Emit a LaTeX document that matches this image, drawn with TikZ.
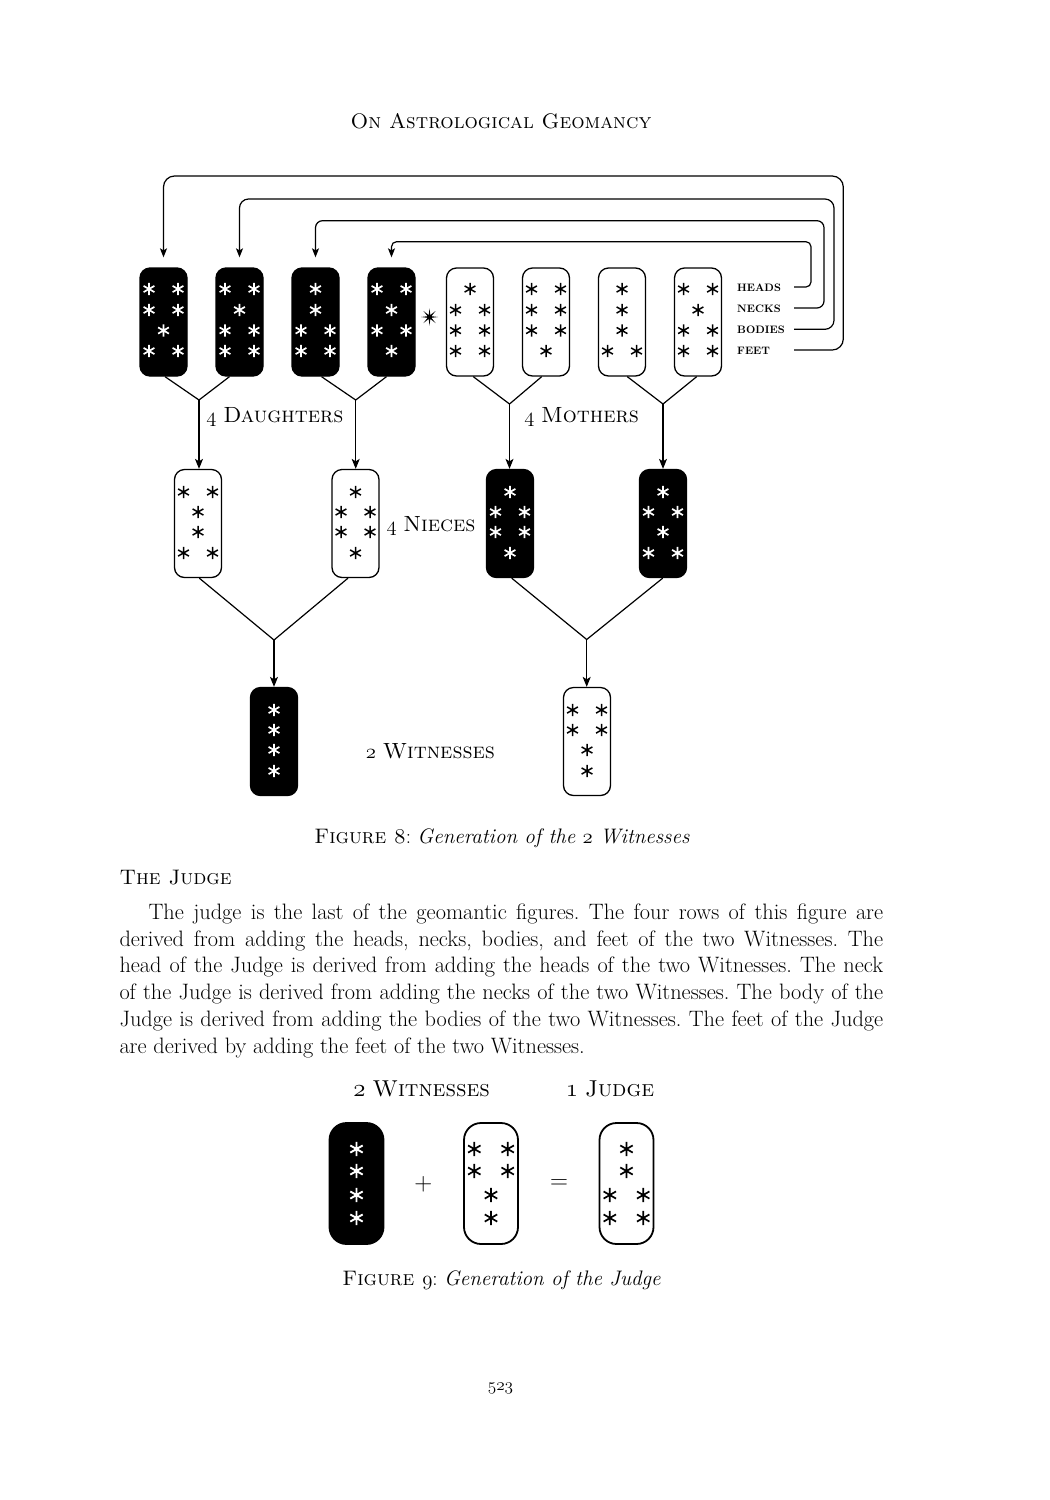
\documentclass[tikz,border=0pt]{standalone}
\usetikzlibrary{arrows.meta,calc,shapes.geometric}
\newcommand\osn[1]{{\usefont{OML}{cmm}{m}{it}#1}}
\def\rowoffs{{-33,-12,8.5,29}}
\def\dx{14.5}
\def\starlw{1.7pt}
\newcommand\geofig[5]{%
  \node[#3] (#1) at (#2) {};
  \foreach \r [count=\i] in {#5} {
    \pgfmathsetmacro\yy{\rowoffs[\i-1]}
    \ifnum\r=1\relax
      \pic[#4] at ($(#1.center)+(0,\yy)$) {gstar};
    \else
      \pic[#4] at ($(#1.center)+(-\dx,\yy)$) {gstar};
      \pic[#4] at ($(#1.center)+(\dx,\yy)$) {gstar};
    \fi
  }%
}
\begin{document}
\frenchspacing
\begin{tikzpicture}[x=1pt,y=-1pt,
  figbox/.style={rounded corners=10pt, minimum width=47pt, minimum height=108pt, inner sep=0pt, line width=1.3pt},
  blackfig/.style={figbox, draw=black, fill=black},
  whitefig/.style={figbox, draw=black, fill=white},
  bigbox/.style={rounded corners=17pt, minimum width=54pt, minimum height=121pt, inner sep=0pt, line width=1.8pt},
  bigblack/.style={bigbox, draw=black, fill=black},
  bigwhite/.style={bigbox, draw=black, fill=white},
  link/.style={line width=1.2pt},
  arr/.style={link, -{Stealth[length=10pt,width=8pt,inset=2.5pt]}},
  rowlbl/.style={font=\fontsize{10.8}{12}\selectfont\bfseries, anchor=base west, inner sep=0pt},
  txt/.style={inner sep=0pt, anchor=base},
  lbl/.style={txt, font=\fontsize{22}{26}\selectfont},
  body/.style={inner sep=0pt, anchor=base west, font=\fontsize{22.3}{27}\selectfont},
  capt/.style={txt, font=\fontsize{21}{25}\selectfont},
  gstar/.pic={\draw[line width=\starlw] (0,6.2)--(0,-6.2) (-5.4,3.1)--(5.4,-3.1) (-5.4,-3.1)--(5.4,3.1);}
]
\useasboundingbox (0,0) rectangle (1050,1500);
\fill[white] (0,0) rectangle (1050,1500);

% header
\node[capt] (hdr) at (501,128) {\textsc{On Astrological Geomancy}};

% top row
\geofig{d1}{163.5,322}{blackfig}{white}{2,2,1,2}
\geofig{d2}{239.5,322}{blackfig}{white}{2,1,2,2}
\geofig{d3}{315.5,322}{blackfig}{white}{1,1,2,2}
\geofig{d4}{391.5,322}{blackfig}{white}{2,1,2,1}
\def\starlw{1.5pt}
\geofig{m1}{470,322}{whitefig}{black}{1,2,2,2}
\geofig{m2}{546,322}{whitefig}{black}{2,2,2,1}
\geofig{m3}{622,322}{whitefig}{black}{1,1,1,2}
\geofig{m4}{698,322}{whitefig}{black}{2,1,2,2}
\node[star, star points=8, star point ratio=4, fill=black, minimum size=17pt, inner sep=0pt] (sep) at (429.5,317) {};

% nieces
\def\rowoffs{{-31.5,-11.5,8.5,29.5}}
\geofig{n1}{198,523.5}{whitefig}{black}{2,1,1,2}
\geofig{n2}{355.5,523.5}{whitefig}{black}{1,2,2,1}
\def\starlw{1.7pt}
\geofig{n3}{510,523.5}{blackfig}{white}{1,2,2,1}
\geofig{n4}{663,523.5}{blackfig}{white}{1,2,1,2}

% witnesses
\geofig{w1}{274,741.5}{blackfig}{white}{1,1,1,1}
\def\starlw{1.5pt}
\geofig{w2}{587,741.5}{whitefig}{black}{2,2,1,1}

% junctions
\coordinate (j1) at (199,400);
\coordinate (j2) at (355.7,400);
\coordinate (j3) at (509.5,404);
\coordinate (j4) at (663,404);
\coordinate (j5) at (274,640);
\coordinate (j6) at (586.7,639.5);

\draw[link] ($(d1.south)+(1.5,0)$) -- (j1) -- ($(d2.south)+(-10,0)$);
\draw[link] ($(d3.south)+(6,0)$) -- (j2) -- ($(d4.south)+(-5,0)$);
\draw[link] ($(m1.south)+(3.3,0)$) -- (j3) -- ($(m2.south)+(-4.3,0)$);
\draw[link] ($(m3.south)+(5.3,0)$) -- (j4) -- ($(m4.south)+(-1.3,0)$);
\draw[arr] (j1) -- (j1 |- n1.north);
\draw[arr] (j2) -- (j2 |- n2.north);
\draw[arr] (j3) -- (j3 |- n3.north);
\draw[arr] (j4) -- (j4 |- n4.north);

\draw[link] ($(n1.south)+(1.3,0)$) -- (j5) -- ($(n2.south)+(-7.5,0)$);
\draw[link] ($(n3.south)+(1.7,0)$) -- (j6) -- ($(n4.south)+(-0.3,0)$);
\draw[arr] (j5) -- (j5 |- w1.north);
\draw[arr] (j6) -- (j6 |- w2.north);

% row labels and feedback connectors
\node[rowlbl] (lh) at (737,291) {HEADS};
\node[rowlbl] (ln) at (737,312) {NECKS};
\node[rowlbl] (lb) at (737,333.5) {BODIES};
\node[rowlbl] (lf) at (737,354) {FEET};
\coordinate (hs) at (794,287);
\coordinate (ns) at (794,308);
\coordinate (bs) at (794,329.3);
\coordinate (fs) at (794,350);
\begin{scope}[arr, -{Stealth[length=9pt,width=7pt,inset=2pt]}]
\draw[rounded corners=5pt] (hs) -- (811,287) -- (811,241.7) -- (391.5,241.7) -- ([yshift=10pt]d4.north);
\draw[rounded corners=7pt] (ns) -- (824,308) -- (824,220.7) -- (315.5,220.7) -- ([yshift=10pt]d3.north);
\draw[rounded corners=9pt] (bs) -- (834,329.3) -- (834,199) -- (239.5,199) -- ([yshift=10pt]d2.north);
\draw[rounded corners=11pt] (fs) -- (843.3,350) -- (843.3,176) -- (163.5,176) -- ([yshift=10pt]d1.north);
\end{scope}

% group labels
\node[lbl] (ldau) at (275,422.3) {\osn{4} \textsc{Daughters}};
\node[lbl] (lmot) at (581.7,422.3) {\osn{4} \textsc{Mothers}};
\node[lbl] (lnie) at (431,531) {\osn{4} \textsc{Nieces}};
\node[lbl] (lwit) at (430.5,758) {\osn{2} \textsc{Witnesses}};

% caption 8
\node[capt] (cap8) at (502,843) {\textsc{Figure 8}: \textit{Generation of the \osn{2} Witnesses}};

% section heading and paragraph
\node[capt, anchor=base west] (sec) at (119.3,884) {\textsc{The Judge}};
\node[body] (p1) at (148.3,919.3) {\makebox[734.7pt][s]{The judge is the last of the geomantic figures. The four rows of this figure are}};
\node[body] (p2) at (119.3,946) {\makebox[763.7pt][s]{derived from adding the heads, necks, bodies, and feet of the two Witnesses. The}};
\node[body] (p3) at (119.3,972.8) {\makebox[763.7pt][s]{head of the Judge is derived from adding the heads of the two Witnesses. The neck}};
\node[body] (p4) at (119.3,999.6) {\makebox[763.7pt][s]{of the Judge is derived from adding the necks of the two Witnesses. The body of the}};
\node[body] (p5) at (119.3,1026.4) {\makebox[763.7pt][s]{Judge is derived from adding the bodies of the two Witnesses. The feet of the Judge}};
\node[body] (p6) at (119.3,1053.2) {are derived by adding the feet of the two Witnesses.};

% figure 9
\node[lbl, font=\fontsize{23}{27}\selectfont] (l2w) at (421.7,1096) {\osn{2} \textsc{Witnesses}};
\node[lbl, font=\fontsize{23}{27}\selectfont] (l1j) at (610,1096) {\osn{1} \textsc{Judge}};
\def\rowoffs{{-34.5,-12.5,11.5,34.5}}
\def\dx{16.7}
\def\starlw{1.9pt}
\geofig{b1}{356.5,1183.5}{bigblack}{white,scale=1.15}{1,1,1,1}
\def\starlw{1.7pt}
\geofig{b2}{491,1183.5}{bigwhite}{black,scale=1.15}{2,2,1,1}
\geofig{b3}{626.5,1183.5}{bigwhite}{black,scale=1.15}{1,1,2,2}
\node[font=\fontsize{23}{27}\selectfont, inner sep=0pt] (plus) at (423.3,1184) {$+$};
\node[font=\fontsize{23}{27}\selectfont, inner sep=0pt] (eq) at (559,1184) {$=$};
\node[capt] (cap9) at (501.5,1285) {\textsc{Figure \osn{9}}: \textit{Generation of the Judge}};

% page number
\node[txt, font=\fontsize{18}{22}\selectfont] (pg) at (500.5,1390) {\osn{523}};
\end{tikzpicture}
\end{document}
